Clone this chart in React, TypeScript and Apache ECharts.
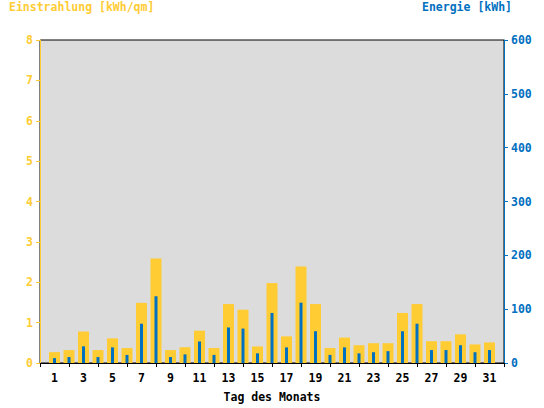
import React, { useEffect, useRef } from "react";
import * as echarts from "echarts";

const days = Array.from({ length: 31 }, (_, i) => String(i + 1));
const einstrahlung = [0.27, 0.32, 0.78, 0.32, 0.61, 0.37, 1.49, 2.59, 0.32, 0.39, 0.8, 0.37, 1.46, 1.32, 0.41, 1.98, 0.66, 2.39, 1.46, 0.37, 0.63, 0.44, 0.49, 0.49, 1.24, 1.46, 0.54, 0.54, 0.71, 0.46, 0.51];
const energie = [9, 11, 31, 11, 29, 15, 73, 124, 11, 16, 40, 15, 66, 64, 18, 93, 29, 112, 59, 15, 29, 18, 20, 22, 59, 73, 24, 24, 33, 20, 24];
const leftTicks = [0, 8, 1];
const rightTicks = [0, 600, 100];

const YELLOW = "#FFCC33";
const BLUE = "#0070C0";
const FONT = "DejaVu Sans Mono";
const FS = 11.5;

export default function App() {
  const ref = useRef<HTMLDivElement>(null);
  useEffect(() => {
    if (!ref.current) return;
    const chart = echarts.init(ref.current, undefined, { renderer: "svg" });
    const cats = ["", ...days, ""];
    const xBase = {
      type: "category",
      data: cats,
      boundaryGap: false,
    };
    chart.setOption({
      animation: false,
      backgroundColor: "#FFFFFF",
      title: [
        {
          text: "Einstrahlung [kWh/qm]",
          left: 9,
          top: 1,
          padding: 0,
          textStyle: { color: YELLOW, fontFamily: FONT, fontWeight: "bold", fontSize: FS },
        },
        {
          text: "Energie [kWh]",
          right: 32,
          top: 1,
          padding: 0,
          textStyle: { color: BLUE, fontFamily: FONT, fontWeight: "bold", fontSize: FS },
        },
      ],
      grid: {
        left: 40,
        right: 40,
        top: 40,
        bottom: 40,
        show: true,
        backgroundColor: "#DCDCDC",
        borderColor: "#000000",
        borderWidth: 1,
      },
      xAxis: [
        {
          ...xBase,
          position: "bottom",
          name: "Tag des Monats",
          nameLocation: "middle",
          nameGap: 28,
          nameTextStyle: { color: "#000", fontFamily: FONT, fontWeight: "bold", fontSize: FS },
          axisLine: { show: true, lineStyle: { color: "#000", width: 1 } },
          axisTick: { show: true, length: 4, interval: (i: number) => i % 2 === 0, lineStyle: { color: "#000" } },
          axisLabel: {
            interval: (i: number) => i % 2 === 1,
            color: "#000",
            fontFamily: FONT,
            fontWeight: "bold",
            fontSize: FS,
            margin: 9,
          },
          splitLine: { show: false },
        },
        {
          ...xBase,
          show: false,
        },
      ],
      yAxis: [
        {
          type: "value",
          position: "left",
          min: leftTicks[0],
          max: leftTicks[1],
          interval: leftTicks[2],
          axisLine: { show: true, lineStyle: { color: YELLOW, width: 1 } },
          axisTick: { show: true, length: 4, lineStyle: { color: YELLOW } },
          axisLabel: { color: YELLOW, fontFamily: FONT, fontWeight: "bold", fontSize: FS, margin: 7 },
          splitLine: { show: false },
        },
        {
          type: "value",
          position: "right",
          min: rightTicks[0],
          max: rightTicks[1],
          interval: rightTicks[2],
          axisLine: { show: true, lineStyle: { color: BLUE, width: 1 } },
          axisTick: { show: true, length: 4, lineStyle: { color: BLUE } },
          axisLabel: { color: BLUE, fontFamily: FONT, fontWeight: "bold", fontSize: FS, margin: 7 },
          splitLine: { show: false },
        },
      ],
      series: [
        {
          type: "bar",
          xAxisIndex: 0,
          yAxisIndex: 0,
          data: [null, ...einstrahlung, null],
          barWidth: 11,
          itemStyle: { color: YELLOW },
        },
        {
          type: "bar",
          xAxisIndex: 1,
          yAxisIndex: 1,
          data: [null, ...energie, null],
          barWidth: 3,
          itemStyle: { color: BLUE },
        },
      ],
    });
    return () => chart.dispose();
  }, []);
  return <div ref={ref} style={{ width: 544, height: 408, position: "absolute", left: 0, top: 0 }} />;
}
